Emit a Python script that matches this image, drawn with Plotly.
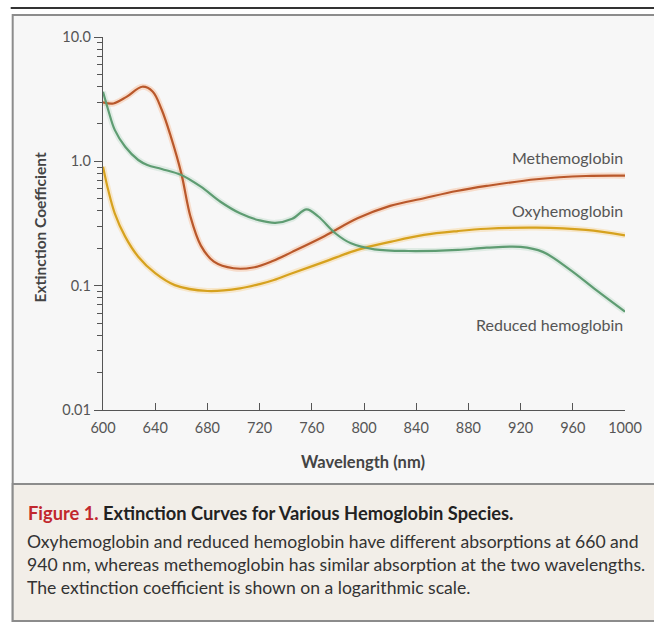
import plotly.graph_objects as go

# ---- data ----
meth_nm = [600, 608, 618, 630, 638, 645, 652, 660, 667, 675, 685, 700, 715, 730, 745,
           770, 795, 820, 846, 871, 894, 932, 970, 1000]
meth_val = [2.98, 2.92, 3.3, 3.98, 3.65, 2.6, 1.58, 0.80, 0.36, 0.21, 0.156, 0.138, 0.14,
            0.158, 0.187, 0.251, 0.348, 0.438, 0.505, 0.577, 0.634, 0.718, 0.762, 0.767]

oxy_nm = [600, 604, 609, 617, 627, 640, 655, 680, 705, 720, 731, 745, 770, 795, 821,
          846, 872, 894, 932, 970, 1000]
oxy_val = [0.906, 0.587, 0.382, 0.248, 0.171, 0.126, 0.101, 0.0906, 0.095, 0.103, 0.111,
           0.126, 0.156, 0.194, 0.226, 0.256, 0.275, 0.287, 0.293, 0.281, 0.254]

red_nm = [600, 604, 609, 617, 627, 634, 645, 660, 675, 690, 705, 720, 732, 745, 756, 765,
          778, 790, 808, 834, 872, 894, 920, 937, 958, 978, 1000]
red_val = [3.63, 2.59, 1.79, 1.31, 1.025, 0.935, 0.868, 0.777, 0.625, 0.473, 0.382, 0.335,
           0.32, 0.345, 0.411, 0.36, 0.264, 0.219, 0.196, 0.19, 0.194, 0.202, 0.205, 0.187,
           0.134, 0.092, 0.0618]

x_ticks = [600, 640, 680, 720, 760, 800, 840, 880, 920, 960, 1000]
y_ticks = [0.01, 0.1, 1.0, 10.0]
y_tick_text = ["0.01", "0.1", "1.0", "10.0"]
y_minor = [m * d for d in (0.01, 0.1, 1.0) for m in range(2, 10)]

series = [
    ("Methemoglobin", meth_nm, meth_val, "#b9582b", "rgba(245,170,120,0.35)"),
    ("Oxyhemoglobin", oxy_nm, oxy_val, "#d6a21e", "rgba(245,200,120,0.35)"),
    ("Reduced hemoglobin", red_nm, red_val, "#5e9c72", "rgba(150,200,170,0.25)"),
]

fig = go.Figure()
for name, xs, ys, col, halo in series:
    fig.add_trace(go.Scatter(x=xs, y=ys, mode="lines", line=dict(color=halo, width=6, shape="spline", smoothing=1.0),
                             hoverinfo="skip", showlegend=False))
for name, xs, ys, col, halo in series:
    fig.add_trace(go.Scatter(x=xs, y=ys, mode="lines", name=name,
                             line=dict(color=col, width=2.2, shape="spline", smoothing=1.0),
                             showlegend=False))

W, H = 654, 623
L, R, T, B = 103, 629, 37, 410
pw, ph = R - L, B - T


def px(x):
    return (x - L) / pw


def py(y):
    return (B - y) / ph


font = "Lato"
shapes = [
    dict(type="line", xref="paper", yref="paper", x0=px(10), x1=px(660), y0=py(8), y1=py(8),
         line=dict(color="#333333", width=2), layer="below"),
    dict(type="rect", xref="paper", yref="paper", x0=px(12), x1=px(670), y0=py(15), y1=py(621),
         fillcolor="#f7f7f7", line=dict(color="#8c8c8c", width=2), layer="below"),
    dict(type="rect", xref="paper", yref="paper", x0=px(12), x1=px(670), y0=py(484), y1=py(621),
         fillcolor="#f2eee8", line=dict(color="#8c8c8c", width=2), layer="below"),
]

lab_font = dict(family=font, size=16, color="#555555")
annotations = [
    dict(text="Methemoglobin", x=1000, y=0.027, xref="x", yref="y", xanchor="right", yanchor="middle",
         showarrow=False, font=lab_font),
    dict(text="Oxyhemoglobin", x=1000, y=-0.399, xref="x", yref="y", xanchor="right", yanchor="middle",
         showarrow=False, font=lab_font),
    dict(text="Reduced hemoglobin", x=1000, y=-1.316, xref="x", yref="y", xanchor="right", yanchor="middle",
         showarrow=False, font=lab_font),
    dict(text="<b>Wavelength (nm)</b>", x=px(365), y=py(462), xref="paper", yref="paper",
         xanchor="center", yanchor="middle", showarrow=False, font=dict(family=font, size=16.5, color="#444444")),
    dict(text="<b>Extinction Coefficient</b>", x=px(40), y=py(227), xref="paper", yref="paper",
         xanchor="center", yanchor="middle", textangle=-90, showarrow=False,
         font=dict(family=font, size=15.5, color="#444444")),
    dict(text="<b><span style='color:#c1272d'>Figure 1.</span> Extinction Curves for Various Hemoglobin Species.</b>",
         x=px(25), y=py(513), xref="paper", yref="paper", xanchor="left", yanchor="middle", showarrow=False,
         font=dict(family=font, size=18.3, color="#222222")),
]
body = [
    "Oxyhemoglobin and reduced hemoglobin have different absorptions at 660 and",
    "940 nm, whereas methemoglobin has similar absorption at the two wavelengths.",
    "The extinction coefficient is shown on a logarithmic scale.",
]
for i, line in enumerate(body):
    annotations.append(dict(text=line, x=px(24), y=py(541 + 23 * i), xref="paper", yref="paper",
                            xanchor="left", yanchor="middle", showarrow=False,
                            font=dict(family=font, size=17.6, color="#333333")))

tick_font = dict(family=font, size=14.5, color="#555555")
fig.update_layout(
    width=W, height=H,
    margin=dict(l=L, r=W - R, t=T, b=H - B),
    paper_bgcolor="white", plot_bgcolor="rgba(0,0,0,0)",
    shapes=shapes, annotations=annotations, showlegend=False,
    xaxis=dict(range=[600, 1000], tickvals=x_ticks, ticks="inside", ticklen=7, tickcolor="#555555",
               showline=True, linecolor="#555555", linewidth=1.3, showgrid=False, zeroline=False,
               tickfont=tick_font, ticklabelstandoff=4),
    yaxis=dict(type="log", range=[-2, 1], tickvals=y_ticks, ticktext=y_tick_text, ticks="outside",
               ticklen=8, tickcolor="#555555", showline=True, linecolor="#555555", linewidth=1.3,
               showgrid=False, zeroline=False, tickfont=tick_font,
               minor=dict(tickvals=y_minor, ticks="outside", ticklen=5, tickcolor="#555555", showgrid=False)),
)

fig.write_html("out.html", config={"displayModeBar": False},
               post_script="document.body.style.margin='0';document.body.style.overflow='hidden';")
